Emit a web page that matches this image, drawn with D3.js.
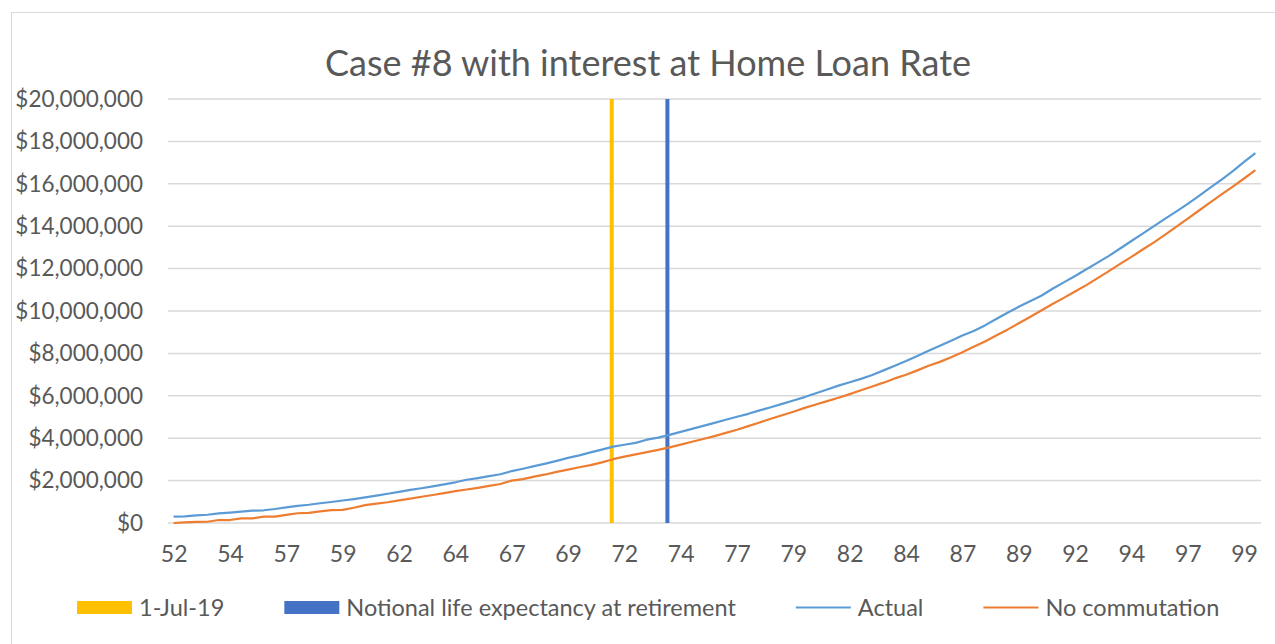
<!DOCTYPE html>
<html>
<head>
  <meta content="text/html;charset=utf-8" http-equiv="Content-Type">
  <title>Case #8 with interest at Home Loan Rate</title>
<script src="https://cdnjs.cloudflare.com/ajax/libs/d3/7.6.1/d3.min.js"></script>
<style>
  body { margin: 0; background: #ffffff; }
  text { font-family: Lato, 'Open Sans', sans-serif; fill: #595959; }
</style>
<script>

// half-yearly ages 52 .. 100 (one category per point)
let ages = d3.range(52, 100.5, 0.5);

// labels shown under every 5th category
let tickLabels = ['52','54','57','59','62','64','67','69','72','74',
                  '77','79','82','84','87','89','92','94','97','99'];

// balance in $ millions
let actual = [
   0.30, 0.31, 0.36, 0.39, 0.45, 0.49, 0.54, 0.58, 0.60, 0.66,
   0.74, 0.81, 0.86, 0.93, 0.99, 1.06, 1.13, 1.21, 1.29, 1.38,
   1.47, 1.56, 1.64, 1.73, 1.82, 1.92, 2.04, 2.12, 2.21, 2.30,
   2.45, 2.56, 2.68, 2.80, 2.93, 3.07, 3.19, 3.33, 3.46, 3.60,
   3.69, 3.78, 3.93, 4.03, 4.16, 4.30, 4.44, 4.58, 4.72, 4.87,
   5.01, 5.15, 5.31, 5.46, 5.62, 5.78, 5.94, 6.12, 6.30, 6.48,
   6.64, 6.80, 6.98, 7.20, 7.42, 7.64, 7.88, 8.12, 8.36, 8.60,
   8.84, 9.06, 9.32, 9.62, 9.92,10.20,10.46,10.72,11.05,11.35,
  11.65,11.97,12.28,12.60,12.95,13.30,13.65,14.00,14.36,14.70,
  15.05,15.43,15.82,16.20,16.60,17.03,17.45
];

let noCommutation = [
   0.00, 0.03, 0.05, 0.06, 0.14, 0.14, 0.22, 0.22, 0.30, 0.30,
   0.38, 0.46, 0.48, 0.55, 0.61, 0.62, 0.72, 0.84, 0.91, 0.98,
   1.07, 1.15, 1.24, 1.32, 1.41, 1.50, 1.58, 1.66, 1.75, 1.84,
   2.00, 2.07, 2.19, 2.29, 2.41, 2.52, 2.63, 2.73, 2.86, 3.01,
   3.13, 3.24, 3.34, 3.45, 3.57, 3.70, 3.83, 3.96, 4.10, 4.25,
   4.40, 4.57, 4.74, 4.92, 5.08, 5.25, 5.43, 5.59, 5.75, 5.91,
   6.08, 6.26, 6.44, 6.62, 6.82, 6.99, 7.20, 7.42, 7.60, 7.82,
   8.06, 8.31, 8.56, 8.84, 9.12, 9.42, 9.72,10.02,10.33,10.62,
  10.92,11.22,11.55,11.88,12.22,12.55,12.90,13.24,13.60,13.98,
  14.36,14.74,15.12,15.50,15.87,16.25,16.65
];

// vertical marker lines (age at which they sit)
let markerNames = ['1-Jul-19', 'Notional life expectancy at retirement'];
let markerAges  = [71.44, 73.91];

let yTicks = [0, 2, 4, 6, 8, 10, 12, 14, 16, 18, 20];

function draw() {

   let svg = d3.select('svg');

   svg.append('rect')
      .attr('x', 11.5).attr('y', 12.5)
      .attr('width', 1300).attr('height', 700)
      .attr('fill', 'none')
      .attr('stroke', '#d9d9d9');

   let x = d3.scaleLinear().domain([-0.5, ages.length - 0.5]).range([168, 1261]);
   let y = d3.scaleLinear().domain([0, 20]).range([523, 99]);
   let ageToIdx = a => (a - ages[0]) * 2;

   // gridlines
   svg.append('g')
      .selectAll('line')
      .data(yTicks)
      .enter()
      .append('line')
      .attr('x1', x.range()[0])
      .attr('x2', x.range()[1])
      .attr('y1', d => y(d))
      .attr('y2', d => y(d))
      .attr('stroke', '#d9d9d9')
      .attr('stroke-width', 1.5);

   // y axis labels
   let yAxis = d3.axisLeft(y)
      .tickValues(yTicks)
      .tickSize(0)
      .tickPadding(25)
      .tickFormat(d => '$' + d3.format(',')(d * 1e6));

   let gy = svg.append('g')
      .attr('transform', 'translate(168,0)')
      .call(yAxis);
   gy.select('.domain').remove();
   gy.selectAll('text')
      .attr('font-size', 22.5)
      .attr('font-family', null)
      .attr('fill', null);

   // x axis labels, every 5th category
   let xAxis = d3.axisBottom(x)
      .tickValues(tickLabels.map((t, i) => i * 5))
      .tickSize(0)
      .tickPadding(23)
      .tickFormat((d, i) => tickLabels[i]);

   let gx = svg.append('g')
      .attr('transform', 'translate(0,523)')
      .call(xAxis);
   gx.select('.domain').remove();
   gx.selectAll('text')
      .attr('font-size', 23)
      .attr('font-family', null)
      .attr('fill', null);

   // series
   let series = [
      {name: 'Actual'        , values: actual       , color: '#5b9bd5'},
      {name: 'No commutation', values: noCommutation, color: '#ed7d31'}
   ];

   let line = d3.line()
      .x((d, i) => x(i))
      .y(d => y(d));

   // markers
   let markers = markerNames.map((n, i) => ({name: n, age: markerAges[i], color: ['#ffc000', '#4472c4'][i]}));

   svg.append('g')
      .selectAll('line')
      .data(markers)
      .enter()
      .append('line')
      .attr('x1', d => x(ageToIdx(d.age)))
      .attr('x2', d => x(ageToIdx(d.age)))
      .attr('y1', y(0))
      .attr('y2', y(20))
      .attr('stroke', d => d.color)
      .attr('stroke-width', 4);

   svg.append('g')
      .selectAll('path')
      .data(series)
      .enter()
      .append('path')
      .attr('d', d => line(d.values))
      .attr('fill', 'none')
      .attr('stroke', d => d.color)
      .attr('stroke-width', 2.2)
      .attr('stroke-linejoin', 'round');

   // title
   svg.append('text')
      .attr('x', 648)
      .attr('y', 76)
      .attr('text-anchor', 'middle')
      .attr('font-size', 36)
      .text('Case #8 with interest at Home Loan Rate');

   // legend
   let legendItems = markers.map(m => ({name: m.name, color: m.color, kind: 'rect'}))
      .concat(series.map(s => ({name: s.name, color: s.color, kind: 'line'})));

   let lg = svg.append('g');
   let cx = 77;
   legendItems.forEach(it => {
      if (it.kind === 'rect') {
         lg.append('rect')
           .attr('x', cx).attr('y', 601)
           .attr('width', 55).attr('height', 13)
           .attr('fill', it.color);
      } else {
         lg.append('line')
           .attr('x1', cx).attr('x2', cx + 55)
           .attr('y1', 607.5).attr('y2', 607.5)
           .attr('stroke', it.color)
           .attr('stroke-width', 2.2);
      }
      let t = lg.append('text')
           .attr('x', cx + 62)
           .attr('y', 616)
           .attr('font-size', 23.5)
           .text(it.name);
      cx += 62 + t.node().getComputedTextLength() + 60;
   });
}

</script>
</head>
<body onload="draw()">
  <svg width=1275 height=644></svg>
</body>
</html>
